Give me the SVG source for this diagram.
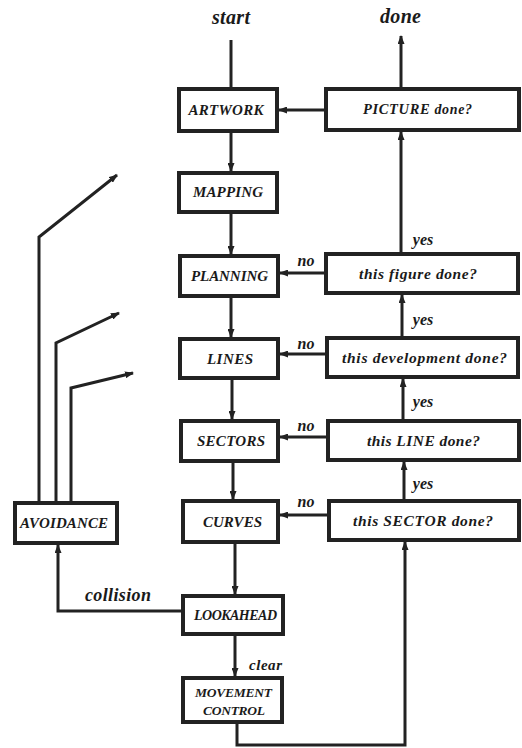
<svg xmlns="http://www.w3.org/2000/svg" width="522" height="748" viewBox="0 0 522 748">
<defs>
<style>
.box{fill:#fff;stroke:#222;stroke-width:4}
.ln{fill:none;stroke:#222;stroke-width:3;stroke-linejoin:miter}
.t{font-family:"Liberation Serif","Times New Roman",serif;font-weight:bold;font-style:italic;fill:#1a1a1a;text-anchor:middle}
.cap{font-size:15px}
.q{font-size:15.5px}
.lbl{font-size:16px}
.big{font-size:20px}
</style>
<marker id="ah" viewBox="0 0 9 7" refX="8" refY="3.5" markerWidth="9" markerHeight="7" markerUnits="userSpaceOnUse" orient="auto">
<path d="M0,0 L9,3.5 L0,7 z" fill="#222"/>
</marker>
</defs>
<rect width="522" height="748" fill="#fff"/>
<g id="connectors">
<path class="ln" d="M231,40 V89"/>
<path class="ln" d="M401,89 V36" marker-end="url(#ah)"/>
<path class="ln" d="M326,110 H279" marker-end="url(#ah)"/>
<path class="ln" d="M231,131 V171" marker-end="url(#ah)"/>
<path class="ln" d="M231,212 V254" marker-end="url(#ah)"/>
<path class="ln" d="M231,296 V337" marker-end="url(#ah)"/>
<path class="ln" d="M232,378 V419" marker-end="url(#ah)"/>
<path class="ln" d="M233,461 V499" marker-end="url(#ah)"/>
<path class="ln" d="M235,542 V594" marker-end="url(#ah)"/>
<path class="ln" d="M235,634 V676" marker-end="url(#ah)"/>
<path class="ln" d="M237,722 V745 H405 V542" marker-end="url(#ah)"/>
<path class="ln" d="M404,501 V462" marker-end="url(#ah)"/>
<path class="ln" d="M403,421 V379" marker-end="url(#ah)"/>
<path class="ln" d="M402,338 V295" marker-end="url(#ah)"/>
<path class="ln" d="M401,254 V132" marker-end="url(#ah)"/>
<path class="ln" d="M326,273 H280" marker-end="url(#ah)"/>
<path class="ln" d="M327,354 H280" marker-end="url(#ah)"/>
<path class="ln" d="M328,437 H280" marker-end="url(#ah)"/>
<path class="ln" d="M329,515 H280" marker-end="url(#ah)"/>
<path class="ln" d="M183,611 H58 V545" marker-end="url(#ah)"/>
<path class="ln" d="M39,503 V237 L117,175" marker-end="url(#ah)"/>
<path class="ln" d="M56,503 V343 L119,313" marker-end="url(#ah)"/>
<path class="ln" d="M71,503 V388 L133,373" marker-end="url(#ah)"/>
<text class="t big" x="231" y="24" textLength="38">start</text>
<text class="t big" x="400.5" y="23" textLength="41">done</text>
<text class="t lbl" x="423" y="245">yes</text>
<text class="t lbl" x="423" y="325">yes</text>
<text class="t lbl" x="423" y="407">yes</text>
<text class="t lbl" x="423" y="489">yes</text>
<text class="t lbl" x="306" y="266">no</text>
<text class="t lbl" x="306" y="349">no</text>
<text class="t lbl" x="306" y="431">no</text>
<text class="t lbl" x="306" y="507">no</text>
<text class="t" style="font-size:18px" x="118" y="601" textLength="66">collision</text>
<text class="t" style="font-size:15px" x="265.5" y="670" textLength="33">clear</text>
</g>
<g id="artwork"><rect class="box" x="179" y="89" width="98" height="42"/><text class="t cap" x="226" y="115" textLength="75">ARTWORK</text></g>
<g id="picture-done"><rect class="box" x="326" y="89" width="193" height="41"/><text class="t" style="font-size:14.5px" x="417.5" y="114" textLength="109">PICTURE <tspan style="font-size:14px">done?</tspan></text></g>
<g id="mapping"><rect class="box" x="179" y="173" width="98" height="39"/><text class="t cap" x="228" y="197" textLength="70">MAPPING</text></g>
<g id="planning"><rect class="box" x="180" y="256" width="98" height="40"/><text class="t cap" x="229.5" y="281" textLength="77">PLANNING</text></g>
<g id="figure-done"><rect class="box" x="326" y="254" width="192" height="39"/><text class="t q" x="418" y="279" textLength="118">this figure done?</text></g>
<g id="lines"><rect class="box" x="180" y="339" width="98" height="39"/><text class="t cap" x="230" y="364" textLength="46">LINES</text></g>
<g id="development-done"><rect class="box" x="327" y="338" width="191" height="39"/><text class="t q" x="424.5" y="363" textLength="165">this development done?</text></g>
<g id="sectors"><rect class="box" x="181" y="421" width="97" height="40"/><text class="t cap" x="231" y="446" textLength="68">SECTORS</text></g>
<g id="line-done"><rect class="box" x="328" y="421" width="191" height="39"/><text class="t q" x="423.5" y="446" textLength="113">this LINE done?</text></g>
<g id="curves"><rect class="box" x="183" y="501" width="95" height="41"/><text class="t cap" x="232.5" y="527" textLength="59">CURVES</text></g>
<g id="sector-done"><rect class="box" x="329" y="501" width="190" height="39"/><text class="t q" x="423" y="526" textLength="140">this SECTOR done?</text></g>
<g id="avoidance"><rect class="box" x="15" y="503" width="102" height="40"/><text class="t" style="font-size:15px" x="64" y="528" textLength="88">AVOIDANCE</text></g>
<g id="lookahead"><rect class="box" x="183" y="596" width="100" height="38"/><text class="t" style="font-size:14px" x="235.5" y="620" textLength="83">LOOKAHEAD</text></g>
<g id="movement-control"><rect class="box" x="183" y="678" width="99" height="44"/><text class="t" style="font-size:13.5px" x="233.5" y="697" textLength="77">MOVEMENT</text><text class="t" style="font-size:13.5px" x="234" y="715" textLength="62">CONTROL</text></g>
</svg>
